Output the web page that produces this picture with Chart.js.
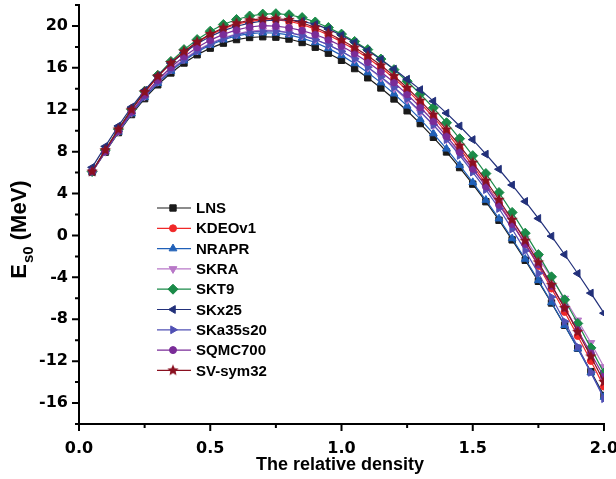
<!DOCTYPE html>
<html>
<head>
<meta charset="utf-8">
<script src="https://cdn.jsdelivr.net/npm/chart.js@4.4.0/dist/chart.umd.min.js"></script>
<style>
  html, body { margin: 0; padding: 0; background: #fff; }
  canvas { display: block; }
</style>
</head>
<body>
<canvas id="chart" width="616" height="479"></canvas>
<script>
// relative density u = rho/rho0
const density = [0.05, 0.10, 0.15, 0.20, 0.25, 0.30, 0.35, 0.40, 0.45, 0.50,
                 0.55, 0.60, 0.65, 0.70, 0.75, 0.80, 0.85, 0.90, 0.95, 1.00,
                 1.05, 1.10, 1.15, 1.20, 1.25, 1.30, 1.35, 1.40, 1.45, 1.50,
                 1.55, 1.60, 1.65, 1.70, 1.75, 1.80, 1.85, 1.90, 1.95, 2.00];

// E_s0 (MeV) per force
const lns = [6.05, 7.95, 9.82, 11.54, 13.06, 14.38, 15.51, 16.46, 17.25, 17.88,
             18.36, 18.70, 18.90, 18.97, 18.93, 18.75, 18.42, 17.97, 17.40, 16.72,
             15.93, 15.05, 14.08, 13.03, 11.90, 10.68, 9.37, 7.97, 6.48, 4.90,
             3.22, 1.45, -0.42, -2.37, -4.38, -6.45, -8.58, -10.77, -13.00, -15.28];
const kdeov1 = [6.10, 8.15, 10.13, 12.00, 13.67, 15.16, 16.43, 17.51, 18.41, 19.15,
                19.74, 20.16, 20.44, 20.58, 20.58, 20.45, 20.15, 19.69, 19.13, 18.47,
                17.75, 16.95, 16.03, 15.00, 13.87, 12.63, 11.29, 9.85, 8.31, 6.67,
                4.94, 3.11, 1.18, -0.83, -2.92, -5.07, -7.30, -9.60, -11.98, -14.43];
const nrapr = [6.08, 7.99, 9.88, 11.63, 13.18, 14.53, 15.69, 16.68, 17.51, 18.18,
               18.69, 19.05, 19.27, 19.35, 19.32, 19.15, 18.84, 18.42, 17.86, 17.19,
               16.42, 15.55, 14.59, 13.53, 12.37, 11.10, 9.73, 8.27, 6.71, 5.07,
               3.38, 1.60, -0.29, -2.25, -4.29, -6.40, -8.58, -10.82, -13.10, -15.43];
const skra = [6.10, 8.00, 9.93, 11.72, 13.30, 14.68, 15.86, 16.85, 17.68, 18.35,
              18.87, 19.25, 19.50, 19.60, 19.55, 19.38, 19.10, 18.70, 18.20, 17.58,
              16.85, 16.02, 15.08, 14.05, 12.95, 11.78, 10.53, 9.20, 7.80, 6.33,
              4.78, 3.15, 1.45, -0.32, -2.15, -4.05, -6.02, -8.10, -10.25, -12.55];
const skt9 = [6.10, 8.15, 10.15, 12.05, 13.77, 15.29, 16.61, 17.74, 18.70, 19.50,
              20.14, 20.62, 20.95, 21.13, 21.17, 21.07, 20.80, 20.38, 19.85, 19.22,
              18.52, 17.74, 16.84, 15.83, 14.72, 13.50, 12.18, 10.76, 9.24, 7.62,
              5.91, 4.10, 2.20, 0.22, -1.83, -3.95, -6.14, -8.40, -10.73, -13.13];
const skx25 = [6.50, 8.50, 10.45, 12.25, 13.85, 15.25, 16.45, 17.45, 18.30, 19.00,
               19.55, 19.97, 20.27, 20.47, 20.57, 20.58, 20.45, 20.15, 19.70, 19.12,
               18.43, 17.65, 16.80, 15.88, 14.92, 13.92, 12.82, 11.68, 10.45, 9.15,
               7.76, 6.32, 4.82, 3.25, 1.62, -0.07, -1.82, -3.63, -5.50, -7.42];
const ska35s20 = [6.08, 7.99, 9.90, 11.66, 13.23, 14.59, 15.76, 16.76, 17.60, 18.28,
                  18.80, 19.17, 19.41, 19.50, 19.50, 19.35, 19.08, 18.70, 18.19, 17.57,
                  16.86, 16.05, 15.15, 14.15, 13.05, 11.85, 10.55, 9.15, 7.64, 6.05,
                  4.38, 2.57, 0.61, -1.45, -3.61, -5.88, -8.21, -10.62, -13.07, -15.58];
const sqmc700 = [6.10, 8.02, 9.97, 11.80, 13.42, 14.84, 16.06, 17.09, 17.95, 18.65,
                 19.20, 19.62, 19.90, 20.04, 19.99, 19.83, 19.56, 19.18, 18.69, 18.09,
                 17.38, 16.56, 15.63, 14.60, 13.47, 12.24, 10.91, 9.48, 7.96, 6.36,
                 4.68, 2.92, 1.09, -0.81, -2.78, -4.81, -6.90, -9.05, -11.25, -13.50];
const svsym32 = [6.10, 8.15, 10.13, 12.00, 13.69, 15.19, 16.47, 17.56, 18.48, 19.23,
                 19.83, 20.26, 20.55, 20.70, 20.71, 20.59, 20.30, 19.85, 19.30, 18.65,
                 17.94, 17.15, 16.24, 15.22, 14.10, 12.87, 11.54, 10.11, 8.58, 6.95,
                 5.23, 3.41, 1.50, -0.50, -2.57, -4.71, -6.92, -9.20, -11.55, -13.98];

const xTicks = [0.0, 0.5, 1.0, 1.5, 2.0];
const xMinorTicks = [0.25, 0.75, 1.25, 1.75];
const yTicks = [-16, -12, -8, -4, 0, 4, 8, 12, 16, 20];
const yMinorTicks = [-18, -14, -10, -6, -2, 2, 6, 10, 14, 18, 22];

// filled five-point star marker (Chart.js "star" is only an outline)
function makeStar(color, r) {
  const c = document.createElement("canvas");
  const s = Math.ceil(r * 2 + 2);
  c.width = s; c.height = s;
  const g = c.getContext("2d");
  g.fillStyle = color;
  g.beginPath();
  for (let i = 0; i < 10; i++) {
    const rr = i % 2 === 0 ? r : r * 0.45;
    const a = -Math.PI / 2 + i * Math.PI / 5;
    const px = s / 2 + rr * Math.cos(a), py = s / 2 + rr * Math.sin(a);
    if (i === 0) g.moveTo(px, py); else g.lineTo(px, py);
  }
  g.closePath();
  g.fill();
  return c;
}

const series = [
  { label: "LNS",      data: lns,      color: "#1a1a1a", style: "rect",     rot: 0,   r: 4.5 },
  { label: "KDEOv1",   data: kdeov1,   color: "#f02828", style: "circle",   rot: 0,   r: 3.5 },
  { label: "NRAPR",    data: nrapr,    color: "#2060b8", style: "triangle", rot: 0,   r: 4.5 },
  { label: "SKRA",     data: skra,     color: "#b878c8", style: "triangle", rot: 180, r: 4.5 },
  { label: "SKT9",     data: skt9,     color: "#1a8a48", style: "rectRot",  rot: 0,   r: 5 },
  { label: "SKx25",    data: skx25,    color: "#22307a", style: "triangle", rot: 270, r: 4.5 },
  { label: "SKa35s20", data: ska35s20, color: "#5050b4", style: "triangle", rot: 90,  r: 4.5 },
  { label: "SQMC700",  data: sqmc700,  color: "#7a2c98", style: "circle",   rot: 0,   r: 3.5 },
  { label: "SV-sym32", data: svsym32,  color: "#8a1020", style: makeStar("#8a1020", 6), rot: 0, r: 5 }
];

const datasets = series.map((s, i) => ({
  label: s.label,
  data: s.data.map((v, k) => ({ x: density[k], y: v })),
  borderColor: s.color,
  backgroundColor: s.color,
  borderWidth: 1.2,
  pointStyle: s.style,
  pointRotation: s.rot,
  pointRadius: s.r,
  pointBorderWidth: 1,
  pointBorderColor: s.color,
  pointBackgroundColor: s.color,
  tension: 0,
  order: series.length - i
}));

// axis ticks, y title and legend drawn by hand
const decorPlugin = {
  id: "decor",
  afterDraw(chart) {
    const ctx = chart.ctx;
    const xs = chart.scales.x, ys = chart.scales.y;
    const area = chart.chartArea;
    ctx.save();
    ctx.strokeStyle = "#000";
    ctx.lineWidth = 2;
    ctx.beginPath();
    xTicks.forEach(v => { const p = xs.getPixelForValue(v); ctx.moveTo(p, area.bottom); ctx.lineTo(p, area.bottom + 7); });
    xMinorTicks.forEach(v => { const p = xs.getPixelForValue(v); ctx.moveTo(p, area.bottom); ctx.lineTo(p, area.bottom + 4); });
    yTicks.forEach(v => { const p = ys.getPixelForValue(v); ctx.moveTo(area.left, p); ctx.lineTo(area.left - 7, p); });
    yMinorTicks.forEach(v => { const p = ys.getPixelForValue(v); ctx.moveTo(area.left, p); ctx.lineTo(area.left - 4, p); });
    ctx.stroke();

    // x title
    ctx.fillStyle = "#000";
    ctx.font = "bold 18px 'Liberation Sans', Arial, sans-serif";
    ctx.textAlign = "center";
    ctx.textBaseline = "alphabetic";
    ctx.fillText("The relative density", 340, 470);

    // y title: E with subscript s0
    ctx.translate(26, 230);
    ctx.rotate(-Math.PI / 2);
    const big = "bold 22px 'Liberation Sans', Arial, sans-serif";
    const small = "bold 15px 'Liberation Sans', Arial, sans-serif";
    ctx.font = big; const wE = ctx.measureText("E").width;
    ctx.font = small; const wS = ctx.measureText("s0").width;
    ctx.font = big; const wM = ctx.measureText(" (MeV)").width;
    const x0 = -(wE + wS + wM) / 2;
    ctx.textAlign = "left";
    ctx.font = big; ctx.fillText("E", x0, 0);
    ctx.font = small; ctx.fillText("s0", x0 + wE + 1, 7);
    ctx.font = big; ctx.fillText(" (MeV)", x0 + wE + wS + 1, 0);
    ctx.setTransform(1, 0, 0, 1, 0, 0);

    // legend
    ctx.font = "bold 15px 'Liberation Sans', Arial, sans-serif";
    ctx.textAlign = "left";
    ctx.textBaseline = "middle";
    series.forEach((s, i) => {
      const y = 208 + i * 20.3;
      ctx.strokeStyle = s.color;
      ctx.lineWidth = 1.2;
      ctx.beginPath(); ctx.moveTo(157, y); ctx.lineTo(191, y); ctx.stroke();
      ctx.fillStyle = s.color;
      ctx.lineWidth = 1;
      Chart.helpers.drawPoint(ctx, { pointStyle: s.style, rotation: s.rot, radius: s.r, borderWidth: 1 }, 173, y);
      ctx.fillStyle = "#000";
      ctx.fillText(s.label, 196, y + 1);
    });
    ctx.restore();
  }
};

new Chart(document.getElementById("chart"), {
  type: "line",
  data: { datasets },
  plugins: [decorPlugin],
  options: {
    responsive: false,
    animation: false,
    events: [],
    layout: { padding: { left: 0, right: 12, top: 5, bottom: 0 }, autoPadding: false },
    plugins: { legend: { display: false }, tooltip: { enabled: false } },
    scales: {
      x: {
        type: "linear", min: 0, max: 2,
        afterBuildTicks: s => { s.ticks = xTicks.map(v => ({ value: v })); },
        afterFit: s => { s.height = 55; s.paddingLeft = 0; s.paddingRight = 0; },
        grid: { display: false },
        border: { display: true, color: "#000", width: 2 },
        ticks: {
          color: "#000", padding: 7, maxRotation: 0,
          font: { family: "'DejaVu Sans'", size: 16, weight: "bold" },
          callback: v => v.toFixed(1)
        }
      },
      y: {
        type: "linear", min: -18, max: 22,
        afterBuildTicks: s => { s.ticks = yTicks.map(v => ({ value: v })); },
        afterFit: s => { s.width = 79; s.paddingTop = 0; s.paddingBottom = 0; },
        grid: { display: false },
        border: { display: true, color: "#000", width: 2 },
        ticks: {
          color: "#000", padding: 3,
          font: { family: "'DejaVu Sans'", size: 16, weight: "bold" }
        }
      }
    }
  }
});
</script>
</body>
</html>
